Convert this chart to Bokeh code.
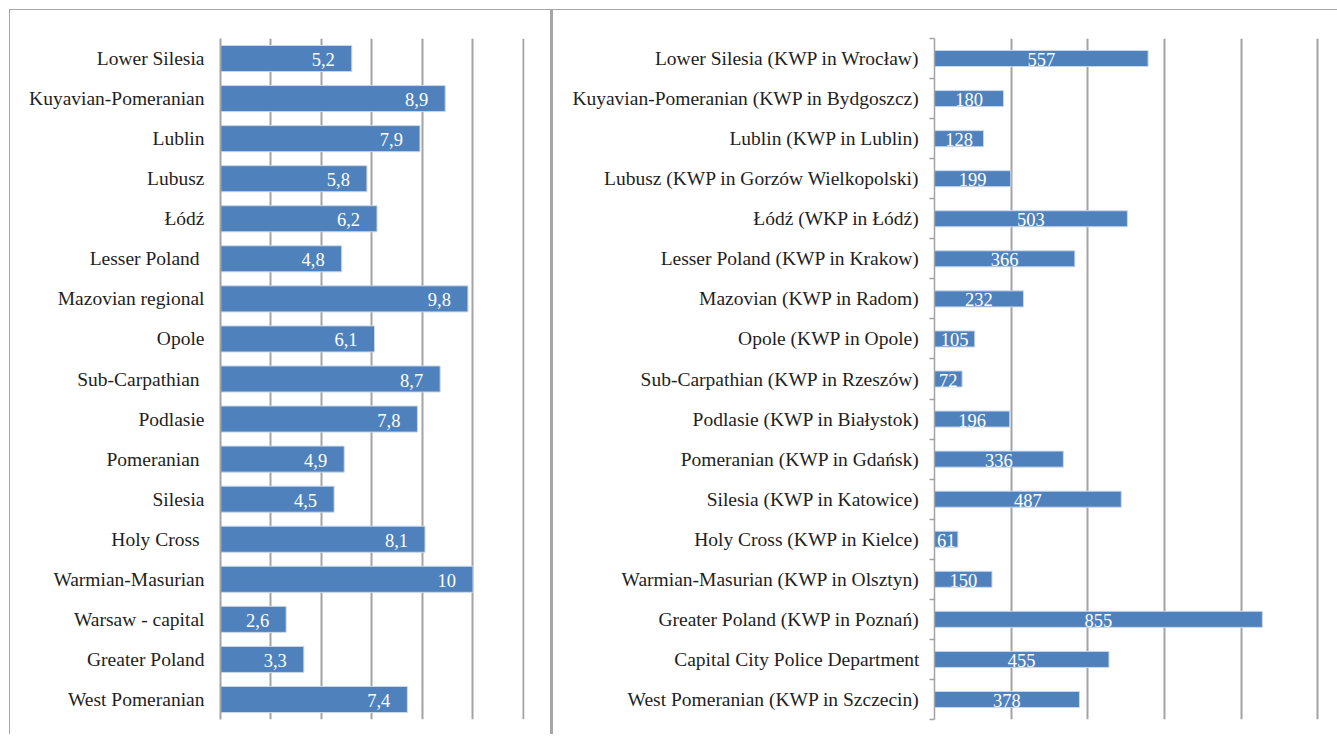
from bokeh.plotting import figure
from bokeh.models import Range1d, FixedTicker, ColumnDataSource
from bokeh.layouts import row
from bokeh.embed import file_html
from bokeh.resources import INLINE
from bokeh.core.properties import value

left_categories = ["Lower Silesia", "Kuyavian-Pomeranian", "Lublin", "Lubusz", "Łódź",
                   "Lesser Poland\u00a0", "Mazovian regional", "Opole", "Sub-Carpathian\u00a0",
                   "Podlasie", "Pomeranian\u00a0", "Silesia", "Holy Cross\u00a0",
                   "Warmian-Masurian", "Warsaw - capital", "Greater Poland", "West Pomeranian"]
left_values = [5.2, 8.9, 7.9, 5.8, 6.2, 4.8, 9.8, 6.1, 8.7, 7.8, 4.9, 4.5, 8.1, 10, 2.6, 3.3, 7.4]
left_ticks = [0, 2, 4, 6, 8, 10, 12]

right_categories = ["Lower Silesia (KWP in Wrocław)", "Kuyavian-Pomeranian (KWP in Bydgoszcz)",
                    "Lublin (KWP in Lublin)", "Lubusz (KWP in Gorzów Wielkopolski)",
                    "Łódź (WKP in Łódź)", "Lesser Poland (KWP in Krakow)", "Mazovian (KWP in Radom)",
                    "Opole (KWP in Opole)", "Sub-Carpathian (KWP in Rzeszów)",
                    "Podlasie (KWP in Białystok)", "Pomeranian (KWP in Gdańsk)",
                    "Silesia (KWP in Katowice)", "Holy Cross (KWP in Kielce)",
                    "Warmian-Masurian (KWP in Olsztyn)", "Greater Poland (KWP in Poznań)",
                    "Capital City Police Department", "West Pomeranian (KWP in Szczecin)"]
right_values = [557, 180, 128, 199, 503, 366, 232, 105, 72, 196, 336, 487, 61, 150, 855, 455, 378]
right_ticks = [0, 200, 400, 600, 800, 1000]

BAR = "#4F81BD"
GRID = "#a3a3a3"
BORDER = "#a6a6a6"
TXT = "#1e1e1e"
FONT = "serif"


def fmt(v):
    s = ("%g" % v)
    return s.replace(".", ",")


def make_panel(cats, vals, ticks, x_end, width, mb_left, mb_right, bar_h, centered,
               boundary_ticks, styles, standoff):
    n = len(cats)
    p = figure(width=width, height=725, output_backend="svg", toolbar_location=None,
               x_range=Range1d(ticks[0], x_end), y_range=Range1d(n - 0.5, -0.5),
               min_border_left=mb_left, min_border_right=mb_right,
               min_border_top=28, min_border_bottom=16,
               outline_line_color=None, background_fill_color="white",
               border_fill_color="white", styles=styles)
    idx = list(range(n))
    src = ColumnDataSource(dict(
        y=idx, v=vals, lab=[fmt(v) for v in vals],
        mid=[v / 2.0 for v in vals]))
    p.hbar(y="y", left=0, right="v", height=bar_h, source=src,
           fill_color=BAR, line_color="#c9d7ea", line_width=1)
    if centered:
        p.text(x="mid", y="y", text="lab", source=src, text_align="center",
               text_baseline="middle", text_color="white",
               text_font=value(FONT), text_font_size="18.5px", y_offset=1)
    else:
        p.text(x="v", y="y", text="lab", source=src, text_align="right",
               text_baseline="middle", text_color="white", x_offset=-17,
               text_font=value(FONT), text_font_size="18.5px", y_offset=1)

    p.xaxis.visible = False
    p.xgrid.ticker = FixedTicker(ticks=ticks[1:])
    p.xgrid.grid_line_color = GRID
    p.xgrid.grid_line_width = 2
    p.ygrid.visible = False

    ax = p.yaxis[0]
    if boundary_ticks:
        ax.ticker = FixedTicker(ticks=idx, minor_ticks=[i - 0.5 for i in range(n + 1)])
        ax.minor_tick_out = 5
        ax.minor_tick_in = 0
        ax.minor_tick_line_color = GRID
        ax.minor_tick_line_width = 1.5
        ax.axis_line_width = 1.5
    else:
        ax.ticker = FixedTicker(ticks=idx, minor_ticks=[])
        ax.minor_tick_line_color = None
        ax.axis_line_width = 2
    ax.axis_line_color = GRID
    ax.major_tick_line_color = None
    ax.major_tick_out = 0
    ax.major_tick_in = 0
    ax.major_label_overrides = {i: c for i, c in enumerate(cats)}
    ax.major_label_standoff = standoff
    ax.major_label_text_font = FONT
    ax.major_label_text_font_size = "19.5px"
    ax.major_label_text_color = TXT
    return p


left = make_panel(left_categories, left_values, left_ticks, 12.04, 543, 210, 29, 0.65, False, False,
                  {"border-left": "1px solid " + BORDER, "border-top": "1px solid " + BORDER,
                   "border-right": "2px solid " + BORDER}, 16)
right = make_panel(right_categories, right_values, right_ticks, 1004, 785, 381, 19, 0.4, True, True,
                   {"border-left": "1px solid " + BORDER, "border-top": "1px solid " + BORDER}, 10)

layout = row(left, right, margin=(9, 0, 0, 9))
open("out.html", "w").write(file_html(layout, INLINE))
